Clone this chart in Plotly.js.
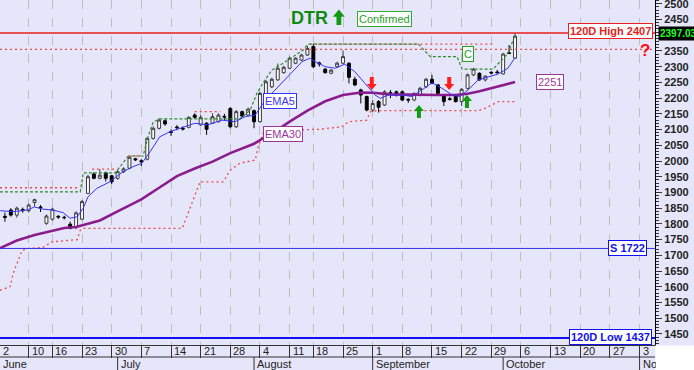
<!DOCTYPE html>
<html><head><meta charset="utf-8">
<script src="https://cdn.plot.ly/plotly-3.0.1.min.js"></script>
<style>html,body{margin:0;padding:0;background:#fff}</style>
</head><body><div id="chart" style="width:694px;height:370px"></div>
<script>
// ---- data ----
const openP  = [1824,1844,1828,1846,1842,1868,1854,1802,1815,1824,1821,1799,1789,1815,1897,1959,1945,1963,1953,1945,1966,1977,2007,2001,2006,2072,2104,2128,2094,2108,2104,2107,2146,2115,2120,2120,2125,2142,2167,2109,2157,2146,2160,2125,2210,2236,2258,2281,2295,2311,2321,2337,2364,2312,2292,2279,2300,2311,2311,2260,2226,2205,2162,2189,2178,2218,2220,2220,2196,2194,2210,2236,2260,2242,2210,2198,2206,2189,2231,2274,2279,2258,2282,2283,2277,2344,2327];
const highP  = [1836,1850,1855,1852,1865,1880,1860,1830,1852,1828,1826,1807,1840,1876,1956,1964,1974,1966,1956,1971,1980,2016,2010,2006,2076,2110,2136,2133,2100,2114,2110,2142,2152,2146,2124,2152,2152,2150,2172,2162,2160,2170,2164,2220,2258,2265,2310,2303,2332,2330,2341,2366,2372,2316,2296,2293,2316,2352,2314,2268,2230,2208,2194,2194,2225,2226,2224,2224,2200,2218,2236,2264,2274,2245,2212,2204,2210,2232,2278,2296,2282,2272,2286,2290,2344,2369,2407];
const lowP   = [1807,1823,1820,1836,1836,1855,1838,1797,1810,1816,1814,1783,1783,1812,1895,1942,1942,1935,1927,1940,1962,1974,2000,1984,2002,2068,2100,2112,2080,2098,2097,2104,2135,2112,2083,2118,2122,2128,2104,2105,2140,2143,2104,2122,2206,2232,2255,2278,2292,2308,2318,2334,2295,2300,2278,2276,2298,2308,2247,2238,2183,2158,2156,2154,2175,2200,2205,2190,2185,2190,2206,2232,2244,2212,2175,2192,2186,2175,2228,2270,2255,2253,2276,2278,2275,2340,2325];
const closeP = [1821,1828,1850,1842,1860,1877,1851,1825,1847,1822,1820,1786,1835,1871,1950,1945,1955,1945,1934,1966,1975,2012,2004,1998,2072,2104,2130,2118,2091,2106,2102,2139,2139,2139,2101,2141,2146,2140,2109,2157,2143,2165,2125,2215,2252,2260,2295,2298,2327,2327,2337,2358,2300,2309,2281,2289,2311,2332,2266,2242,2210,2162,2183,2171,2220,2216,2210,2194,2194,2215,2231,2260,2247,2215,2189,2196,2189,2228,2274,2292,2258,2270,2280,2281,2340,2342,2397.03];
const tradingDay = openP.map((_, k) => k + 1);

const ema5X  = [0.2,2.4,4.7,6,7.4,9.1,10.8,12,13.2,14.2,15,16.5,18.7,20.9,22.6,24.1,25.5,27.1,28.8,30.5,33,35.2,37.6,39.8,41.5,43.2,44.5,46,48.2,51.1,52.4,53.3,55,56.7,58.3,60,61.7,63.4,64.3,65.6,68,69.6,71.3,73,74.7,76.4,77.7,79.1,80.8,82.5,84.2,85.8,87];
const ema5Y  = [1842,1839,1844,1854,1847,1844,1836,1818,1823,1850,1886,1913,1934,1966,1982,1993,2030,2077,2093,2104,2120,2115,2130,2125,2141,2146,2183,2215,2258,2316,2327,2316,2300,2295,2308,2284,2247,2210,2199,2210,2210,2205,2226,2249,2231,2210,2205,2226,2258,2268,2277,2295,2329];
const ema30X = [0.2,3,6,9,11,13,15,17,20,24,27,30,33,36,39,41,43,45,47,49,52,55,58,61,63,66,70,74,77,79,81,83,85,87];
const ema30Y = [1723,1747,1765,1777,1787,1790,1800,1811,1840,1878,1915,1952,1976,1998,2025,2040,2055,2078,2100,2125,2160,2190,2210,2218,2217,2212,2210,2210,2210,2214,2222,2232,2242,2251];

const greenX = [0.17,13.7,14.2,19.6,21.8,24.3,25.1,26,27.1,40.6,42.3,43.5,44.5,46,47.9,49.4,51.3,52.1,70.7,72.7,77.2,78.1,83.3,85.8,87];
const greenY = [1902,1902,1962,1962,2016,2016,2076,2124,2134,2134,2160,2216,2248,2289,2311,2330,2353,2372,2372,2332,2332,2292,2292,2342,2400];
const redUpX = [0.17,13.7,13.8,15.7,19.6,19.7,21.8,24.3,24.4,33,37.3,37.4,52.5,83.3];
const redUpY = [1915,1915,null,1974,1974,null,2016,2016,null,2157,2157,null,2372,2372];
const redLoX = [0.17,1.85,2.4,3.9,4.9,7.4,8.9,13.2,13.7,14.2,30.9,33.9,37.8,39,40.6,43.2,43.7,44.5,50.2,54.1,57.8,58.9,62,62.6,63.7,80.8,82,83.1,84.2,87];
const redLoY = [1589,1600,1643,1716,1722,1725,1743,1750,1780,1786,1786,1934,1934,1971,1993,2003,2045,2088,2099,2101,2109,2125,2130,2157,2160,2160,2168,2178,2189,2189];

const high120 = 2407, low120 = 1437, support = 1722, dottedLevel = 2355;
const lastClose = 2397.03, ema30Last = 2251;

const dayTickIdx  = [0,5,9,14,19,24,29,34,39,44,49,53,58,63,68,73,78,83,88,93,98,103,108];
const dayTickText = ['2','10','16','23','30','7','14','21','28','4','11','18','25','1','8','15','22','29','6','13','20','27','3'];
const monthIdx  = [0,20,43,63,85,108];
const monthText = ['June','July','August','September','October','Nov'];
const yTicks = [1450,1500,1550,1600,1650,1700,1750,1800,1850,1900,1950,2000,2050,2100,2150,2200,2250,2300,2350,2400,2450,2500];

const redArrows = [[62.85, 2226], [75.9, 2226]];
const greenArrows = [[70.8, 2178], [78.9, 2210]];

// ---- traces ----
const FONT = 'Liberation Sans, Arial, sans-serif';
const traces = [
  {type:'scatter', mode:'lines', x:redLoX, y:redLoY, line:{color:'#F04848', width:1.3, dash:'2px,3px'}, hoverinfo:'skip'},
  {type:'scatter', mode:'lines', x:redUpX, y:redUpY, line:{color:'#F04848', width:1.3, dash:'2px,3px'}, hoverinfo:'skip', connectgaps:false},
  {type:'scatter', mode:'lines', x:greenX, y:greenY, line:{color:'#2E8B2E', width:1.2, dash:'3px,2px'}, hoverinfo:'skip'},
  {type:'scatter', mode:'lines', x:ema30X, y:ema30Y, line:{color:'#8B1C8B', width:2.6}, hoverinfo:'skip'},
  {type:'candlestick', x:tradingDay, open:openP, high:highP, low:lowP, close:closeP,
   increasing:{line:{color:'#3A3A3A', width:1}, fillcolor:'#FFFFFF'},
   decreasing:{line:{color:'#000000', width:1}, fillcolor:'#000000'},
   whiskerwidth:0, hoverinfo:'skip'},
  {type:'scatter', mode:'lines', x:ema5X, y:ema5Y, line:{color:'#3535F5', width:1}, hoverinfo:'skip'}
];

// ---- shapes ----
const shapes = [];
function hline(v, color, width, dash){ shapes.push({type:'line', xref:'paper', x0:0, x1:1, yref:'y', y0:v, y1:v, line:{color, width, dash}}); }
hline(high120, '#E82020', 1.6, 'solid');
hline(dottedLevel, '#F04848', 1.2, '2px,3px');
hline(support, '#3030E8', 1, 'solid');
hline(low120, '#1010F0', 2, 'solid');
// x-axis label rows
const ROW1 = -12/345, ROW2 = -25/345;
shapes.push({type:'line', xref:'paper', x0:0, x1:1, yref:'paper', y0:ROW1, y1:ROW1, line:{color:'#333', width:1}});
monthIdx.forEach(m => { if (m > 0) shapes.push({type:'line', xref:'x', x0:m, x1:m, yref:'paper', y0:ROW1, y1:ROW2, line:{color:'#333', width:1}}); });
shapes.push({type:'rect', xref:'paper', x0:1.0005, x1:1.08, yref:'paper', y0:-0.1, y1:-0.0015, fillcolor:'#FFFFFF', line:{width:0}, layer:'above'});
function arrow(x, y, color, down, big){
  const s = big ? 1.2 : 1;
  const d = down ? 1 : -1;
  const p = [[-2*s,13*s],[2*s,13*s],[2*s,6*s],[5*s,6*s],[0,0],[-5*s,6*s],[-2*s,6*s]];
  const path = 'M ' + p.map(q => q[0] + ' ' + (q[1]*d)).join(' L ') + ' Z';
  shapes.push({type:'path', xref:'x', yref:'y', xsizemode:'pixel', ysizemode:'pixel', xanchor:x, yanchor:y, path, fillcolor:color, line:{width:0}});
}
redArrows.forEach(a => arrow(a[0], a[1], '#FF1E1E', true));
greenArrows.forEach(a => arrow(a[0], a[1], '#129A12', false));
arrow(57.3, 2482, '#129A12', false, true);

// ---- annotations ----
const ann = [];
const X0 = 0.17, X1 = 110.6;
const toPaper = v => (v - X0) / (X1 - X0);
dayTickIdx.forEach((t, k) => ann.push({x:Math.max(0, toPaper(t)), xref:'paper', y:-6/345, yref:'paper', text:dayTickText[k], showarrow:false, xanchor:'left', yanchor:'middle', xshift:1, font:{family:FONT, size:11, color:'#222'}}));
monthIdx.forEach((m, k) => {
  const a = {x:Math.max(0, toPaper(m)), xref:'paper', y:-19/345, yref:'paper', text:monthText[k], showarrow:false, xanchor:'left', yanchor:'middle', xshift:1, font:{family:FONT, size:11, color:'#222'}};
  if (monthText[k] === 'Nov') { a.width = 13; a.align = 'left'; }
  ann.push(a);
});
function box(x, xref, xanchor, y, text, color, bold, extra){
  ann.push(Object.assign({x, xref, xanchor, y, yref:'y', yanchor:'middle', text, showarrow:false,
    bgcolor:'#FFFFFF', bordercolor:color, borderwidth:1, borderpad:1,
    font:{family:FONT, size:11, color, weight: bold ? 'bold' : 'normal'}}, extra || {}));
}
box(653/655, 'paper', 'right', high120 + 7, '120D High ' + high120, '#E82020', true);
box(652/655, 'paper', 'right', low120 + 2, '120D Low ' + low120, '#1010F0', true);
box(647/655, 'paper', 'right', support, 'S ' + support, '#1010F0', true);
box(90.5, 'x', 'left', ema30Last, String(ema30Last), '#9A349A', false);
box(44.5, 'x', 'left', 2191, 'EMA5', '#3535F5', false);
box(44.5, 'x', 'left', 2087, 'EMA30', '#9A349A', false);
box(78.1, 'x', 'left', 2340, 'C', '#22A022', false);
ann.push({x:658/655, xref:'paper', xanchor:'left', y:lastClose + 7, yref:'y', yanchor:'middle', text:lastClose.toFixed(2), showarrow:false,
  bgcolor:'#000000', borderpad:1, font:{family:FONT, size:10, color:'#22FF22', weight:'bold'}});
ann.push({x:645/655, xref:'paper', xanchor:'center', y:dottedLevel - 4, yref:'y', yanchor:'middle', text:'?', showarrow:false,
  font:{family:FONT, size:17, color:'#FF1010', weight:'bold'}});
ann.push({x:289/655, xref:'paper', xanchor:'left', y:(345-18)/345, yref:'paper', yanchor:'middle', text:'DTR', showarrow:false,
  font:{family:FONT, size:18, color:'#118A11', weight:'bold'}});
ann.push({x:357/655, xref:'paper', xanchor:'left', y:(345-19)/345, yref:'paper', yanchor:'middle', text:'Confirmed', showarrow:false,
  bgcolor:'#FFFFFF', bordercolor:'#33AA33', borderwidth:1, borderpad:1, font:{family:FONT, size:11, color:'#22A022'}});

const layout = {
  width:694, height:370,
  margin:{l:0, r:39, t:0, b:25, pad:0},
  paper_bgcolor:'#E6E6FA', plot_bgcolor:'#E6E6FA',
  showlegend:false,
  xaxis:{range:[X0, X1], tickmode:'array', tickvals:dayTickIdx, showticklabels:false,
    ticks:'outside', ticklen:12, tickcolor:'#333', tickwidth:1,
    showgrid:true, gridcolor:'#BDBDBD', griddash:'dash', gridwidth:1,
    showline:true, linecolor:'#333', linewidth:1, zeroline:false,
    rangeslider:{visible:false}, fixedrange:true},
  yaxis:{range:[1415, 2512], side:'right', tickmode:'array', tickvals:yTicks,
    ticks:'outside', ticklen:6, tickcolor:'#333', showgrid:false, zeroline:false,
    showline:true, linecolor:'#000', linewidth:1, ticklabeloverflow:'allow',
    tickfont:{family:FONT, size:11, color:'#222', weight:'bold'},
    minor:{tickmode:'linear', tick0:0, dtick:10, ticks:'outside', ticklen:3, tickcolor:'#333', showgrid:false},
    fixedrange:true},
  shapes, annotations:ann
};
Plotly.newPlot('chart', traces, layout, {displayModeBar:false, staticPlot:true});
</script>
</body></html>
